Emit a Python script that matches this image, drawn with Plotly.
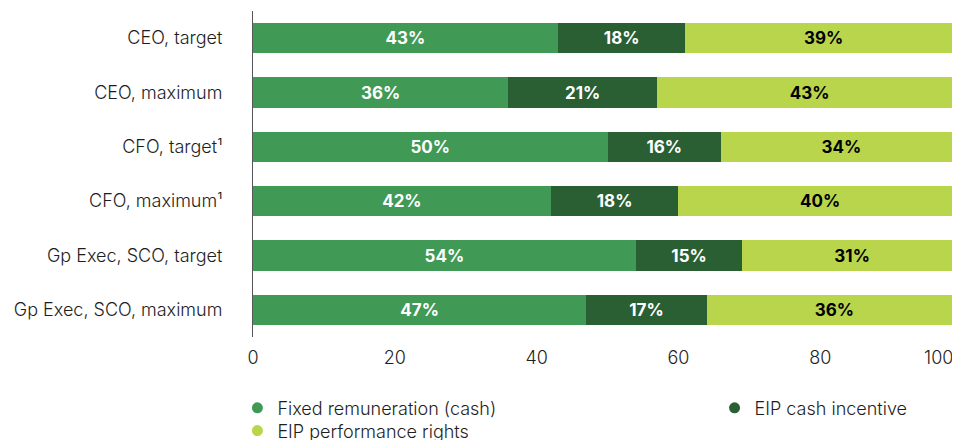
import plotly.graph_objects as go

categories = ["CEO, target", "CEO, maximum", "CFO, target¹", "CFO, maximum¹",
              "Gp Exec, SCO, target", "Gp Exec, SCO, maximum"]
fixed = [43, 36, 50, 42, 54, 47]
cash = [18, 21, 16, 18, 15, 17]
rights = [39, 43, 34, 40, 31, 36]
series_names = ["Fixed remuneration (cash)", "EIP cash incentive", "EIP performance rights"]
tick_vals = [0, 20, 40, 60, 80, 100]
tick_text = ["0", "20", "40", "60", "80", "100\u2007\u2007\u2007\u2007"]

colors = ["#409a56", "#2a5f34", "#b9d54c"]
text_colors = ["#ffffff", "#ffffff", "#000000"]
FONT = "Inter, Roboto, Arial, sans-serif"
TXT = "#1e1e1e"

fig = go.Figure()
for name, vals, col, tcol in zip(series_names, [fixed, cash, rights], colors, text_colors):
    fig.add_trace(go.Bar(
        y=categories, x=vals, orientation="h", name=name,
        marker=dict(color=col, line=dict(width=0)),
        text=[f"{v}%" for v in vals], textposition="inside",
        insidetextanchor="middle", constraintext="none",
        textfont=dict(color=tcol, size=17, family=FONT, weight="bold"),
        showlegend=False, hoverinfo="skip",
    ))

# legend entries with round markers, one legend box each
legend_ids = ["legend", "legend2", "legend3"]
for name, col, lg in zip(series_names, colors, legend_ids):
    fig.add_trace(go.Scatter(
        x=[None], y=[None], mode="markers", name=name,
        marker=dict(color=col, size=11, symbol="circle"),
        legend=lg, showlegend=True,
    ))

leg_font = dict(size=18, color=TXT, family=FONT, weight=300)
leg_common = dict(xref="paper", xanchor="left", yanchor="middle", orientation="v",
                  font=leg_font, itemwidth=30, bgcolor="rgba(0,0,0,0)")
fig.update_layout(
    width=960, height=440,
    barmode="stack", bargap=0.44,
    plot_bgcolor="white", paper_bgcolor="white",
    margin=dict(l=245, r=6, t=3, b=111, autoexpand=False),
    font=dict(family=FONT, color=TXT, size=16),
    xaxis=dict(range=[0, 100], tickvals=tick_vals, ticktext=tick_text,
               showgrid=False, zeroline=False,
               showline=False, ticks="", automargin=False, ticklabeloverflow="allow",
               ticklabelstandoff=8,
               tickfont=dict(size=18, color=TXT, family=FONT, weight=300),
               fixedrange=True),
    yaxis=dict(categoryorder="array", categoryarray=categories, autorange="reversed",
               showgrid=False, zeroline=False, showline=True, linecolor="#555555",
               linewidth=1, ticks="", ticklabelstandoff=26, automargin=False,
               tickfont=dict(size=18, color=TXT, family=FONT, weight=300)),
    legend=dict(x=-0.022, y=-0.218, **leg_common),
    legend2=dict(x=0.651, y=-0.218, **leg_common),
    legend3=dict(x=-0.022, y=-0.288, **leg_common),
)

fig.write_html("out.html")
